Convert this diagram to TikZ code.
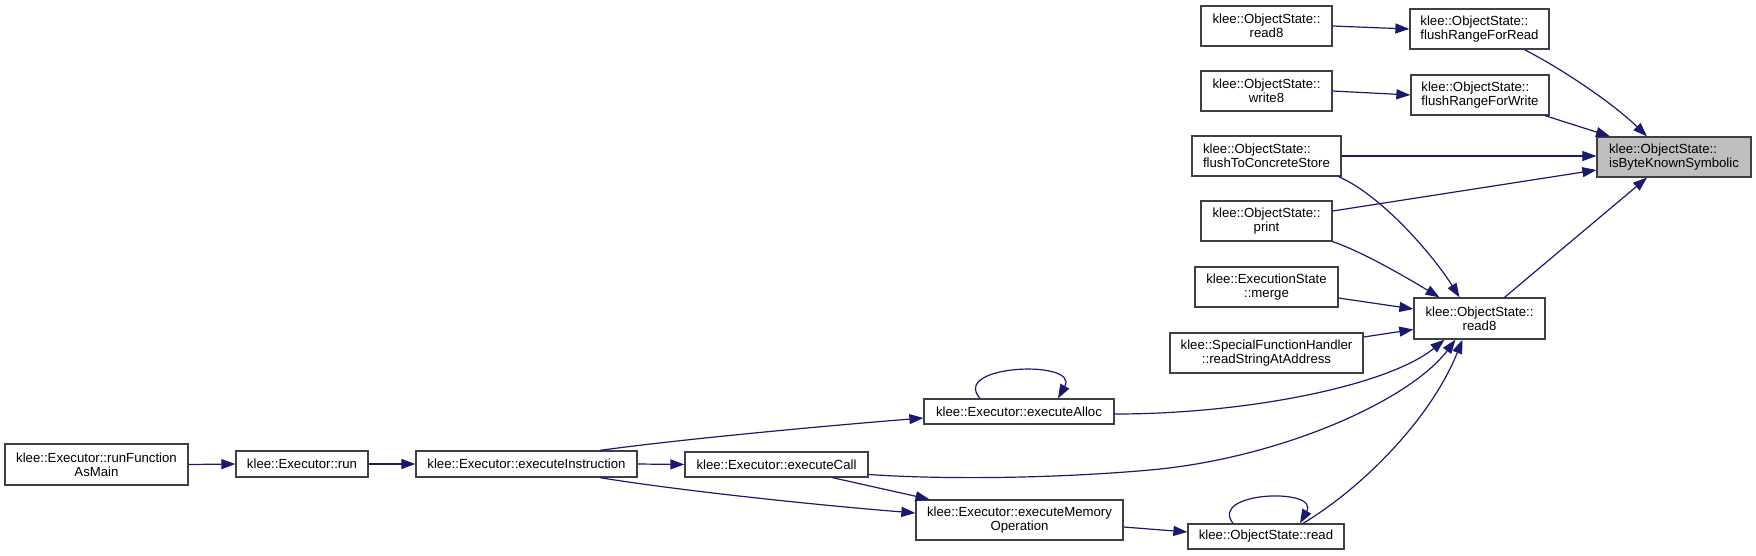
\documentclass[tikz,border=0pt]{standalone}
\usepackage{fontspec}
\setmainfont{Liberation Sans}
\usetikzlibrary{arrows.meta}
\definecolor{edgeblue}{HTML}{191970}
\definecolor{boxgray}{HTML}{BFBFBF}
\definecolor{bordergray}{HTML}{404040}
\tikzset{
  fn/.style={draw=bordergray, line width=1.3pt, fill=white, inner sep=0pt,
    align=center, font=\fontsize{13.2}{14}\selectfont, text=black},
  fnl/.style={fn, align=left},
  call/.style={draw=edgeblue, line width=1.2pt, -{Triangle[length=14pt,width=10pt]}},
}
\begin{document}
\begin{tikzpicture}[x=1pt,y=-1pt]
\useasboundingbox (0,0) rectangle (1756,555);
% nodes
\node[fn, minimum width=131, minimum height=40] (read8a) at (1266.5,26) {klee::ObjectState::\\read8};
\node[fnl, minimum width=139, minimum height=40] (fRead) at (1479.5,29) {klee::ObjectState::\\flushRangeForRead};
\node[fn, minimum width=131, minimum height=40] (write8) at (1266.5,91) {klee::ObjectState::\\write8};
\node[fnl, minimum width=138, minimum height=40] (fWrite) at (1480,95) {klee::ObjectState::\\flushRangeForWrite};
\node[fnl, minimum width=149, minimum height=40] (fConc) at (1266.5,156) {klee::ObjectState::\\flushToConcreteStore};
\node[fnl, fill=boxgray, minimum width=154, minimum height=40] (isByte) at (1674,157) {klee::ObjectState::\\isByteKnownSymbolic};
\node[fn, minimum width=131, minimum height=40] (print) at (1266.5,221) {klee::ObjectState::\\print};
\node[fn, minimum width=143, minimum height=40] (merge) at (1266.5,287) {klee::ExecutionState\\::merge};
\node[fn, minimum width=193, minimum height=40] (sfh) at (1266.5,353) {klee::SpecialFunctionHandler\\::readStringAtAddress};
\node[fn, minimum width=131, minimum height=41] (read8b) at (1479.5,318.5) {klee::ObjectState::\\read8};
\node[fn, minimum width=156, minimum height=25] (read) at (1266,536.5) {klee::ObjectState::read};
\node[fn, minimum width=190, minimum height=25] (eAlloc) at (1019,411.5) {klee::Executor::executeAlloc};
\node[fn, minimum width=183, minimum height=25] (eCall) at (776.5,464.5) {klee::Executor::executeCall};
\node[fn, minimum width=207, minimum height=40] (eMem) at (1019.5,520) {klee::Executor::executeMemory\\Operation};
\node[fn, minimum width=221, minimum height=26] (eInstr) at (526.5,464) {klee::Executor::executeInstruction};
\node[fn, minimum width=132, minimum height=26] (run) at (302,464) {klee::Executor::run};
\node[fn, minimum width=183, minimum height=41] (rfam) at (96.5,464.5) {klee::Executor::runFunction\\AsMain};
% edges
\draw[call] (read8a.east) -- (fRead.west);
\draw[call] (write8.east) -- (fWrite.west);
\draw[call] ([xshift=45]fRead.south) .. controls +(40.5,21) and +(-33,-32) .. ([xshift=-27]isByte.north);
\draw[call] ([xshift=65]fWrite.south) -- ([xshift=-64]isByte.north);
\draw[call] (fConc.east) -- (isByte.west |- fConc.east);
\draw[call] ([yshift=10]print.east) -- ([yshift=-13]isByte.west);
\draw[call] ([xshift=25]read8b.north) -- ([xshift=-27]isByte.south);
\draw[call] ([xshift=-3]fConc.south east) .. controls +(45,20) and +(-25,-40) .. ([xshift=-20]read8b.north);
\draw[call] (print.south east) .. controls +(30,10) and +(-30,-18) .. ([xshift=-40]read8b.north);
\draw[call] ([yshift=-11]merge.east) -- ([yshift=9.5]read8b.west);
\draw[call] ([yshift=16]sfh.east) -- ([yshift=-11]read8b.west);
\draw[call] ([yshift=-2.5]eAlloc.east) .. controls +(136,0) and +(-55,45) .. ([xshift=-35]read8b.south);
\draw[call] ([yshift=-10]eCall.east) .. controls +(82,5.5) and +(-90,8) .. (1150,470)
  .. controls +(130,-11.6) and +(-46,61) .. ([xshift=-24]read8b.south);
\draw[call] ([xshift=37]read.north) .. controls +(57,-34) and +(-32.5,81) .. ([xshift=-17]read8b.south);
\draw[call] ([xshift=-39]eAlloc.north) .. controls +(-30,-34) and +(22,-39) .. ([xshift=39]eAlloc.north);
\draw[call] ([xshift=-33]read.north) .. controls +(-25,-32) and +(20,-36) .. ([xshift=34]read.north);
\draw[call] ([xshift=73.5]eInstr.north) .. controls +(80,-11) and +(-100,8) .. ([yshift=-6.5]eAlloc.west);
\draw[call] (eInstr.east) -- (eCall.west);
\draw[call] ([xshift=73.5]eInstr.south) .. controls +(80,13) and +(-100,-8) .. ([yshift=7]eMem.west);
\draw[call] ([xshift=56]eCall.south) -- ([xshift=-90]eMem.north);
\draw[call] ([yshift=-7]eMem.east) -- ([yshift=4.5]read.west);
\draw[call] (run.east) -- (eInstr.west);
\draw[call] (rfam.east) -- (run.west);
\end{tikzpicture}
\end{document}
